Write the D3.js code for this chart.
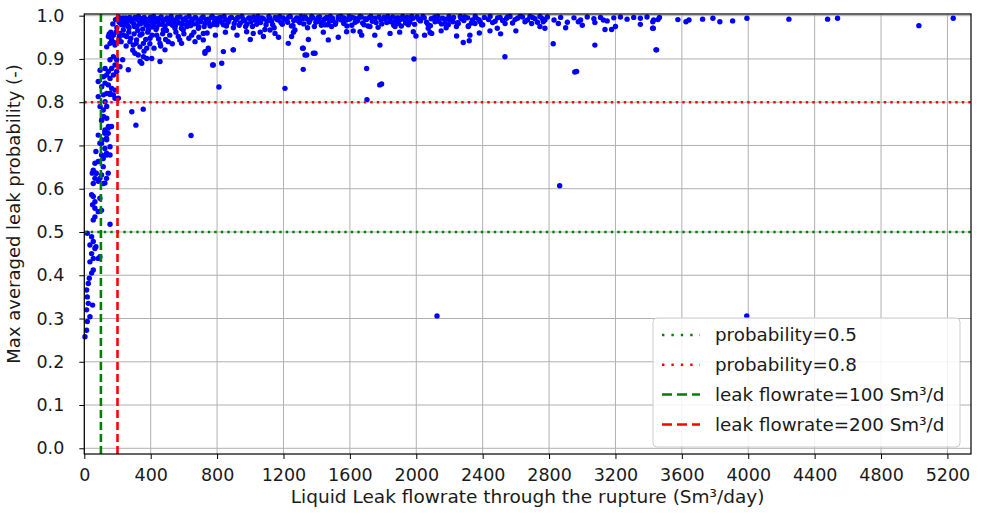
<!DOCTYPE html>
<html><head><meta charset="utf-8">
<script src="https://cdn.jsdelivr.net/npm/d3@7"></script>
<style>
html,body{margin:0;padding:0;background:#fff;}
text{font-family:"DejaVu Sans",sans-serif;fill:#1a1a1a;}
</style></head>
<body><svg id="c" width="981" height="515"></svg>
<script>
// ---------- data ----------
// steep rise near the origin (flowrate Sm3/day, probability)
const riseX = [4,14,18,34,14,24,50,18,14,24,30,44,54,34,54,44,64,84,94,34,54,70,18,44,155,54,64,84,104,64,50,64,94,54,44,54,84,114,64,104,134,70,54,64,84,114,104,134,70,124,94,108,134,84,124,144,48,72,94,124,114,144,135,155,104,135,155,124,144,164,135,104,114,135,84,135,155,115,105,145,125,95,125,115,155,175,185,205];
const riseY = [0.258,0.273,0.293,0.304,0.32,0.335,0.331,0.35,0.366,0.381,0.393,0.405,0.412,0.431,0.439,0.45,0.462,0.439,0.443,0.47,0.478,0.466,0.497,0.489,0.518,0.528,0.535,0.547,0.55,0.555,0.563,0.57,0.578,0.582,0.586,0.612,0.617,0.612,0.624,0.632,0.624,0.636,0.643,0.659,0.663,0.67,0.678,0.682,0.686,0.693,0.705,0.713,0.717,0.724,0.732,0.728,0.636,0.636,0.624,0.613,0.651,0.636,0.678,0.678,0.705,0.713,0.697,0.728,0.74,0.744,0.763,0.758,0.782,0.79,0.813,0.82,0.818,0.767,0.759,0.744,0.736,0.79,0.801,0.817,0.821,0.817,0.809,0.809];
// cluster between 0.8 and 1.0 at low flowrates
const kneeX = [84,105,125,145,165,185,115,135,155,175,95,125,145,165,195,185,215,231,265,155,175,195,135,155,165,185,145,175,205,215,235,225,245,265,255,275,295,305,336,325,356,376,406,456,346,315,336,356,376,396,386,416,436,456,486,506,476,516,546,566,586,596,617,647,667,687,717,727,747,757,777,286,355,311,643,828,811,897,1209,1319,1319,1380,1470,1580];
const kneeY = [0.848,0.836,0.844,0.84,0.832,0.828,0.859,0.863,0.855,0.863,0.874,0.878,0.871,0.878,0.871,0.886,0.882,0.898,0.875,0.898,0.905,0.898,0.928,0.936,0.944,0.932,0.952,0.955,0.94,0.959,0.967,0.979,0.982,0.975,0.952,0.94,0.932,0.913,0.894,0.909,0.905,0.901,0.901,0.894,0.89,0.944,0.955,0.936,0.925,0.948,0.967,0.975,0.955,0.936,0.921,0.94,0.967,0.982,0.971,0.952,0.936,0.967,0.979,0.955,0.94,0.971,0.959,0.917,0.925,0.979,0.886,0.778,0.784,0.747,0.723,0.89,0.835,0.921,0.832,0.925,0.876,0.913,0.944,0.963];
// points just below the saturated band
const subX = [717,727,747,773,838,898,978,1018,1079,1119,1149,1229,1249,1269,1340,1390,1330,1315,1420,1450,1490,1661,1671,1701,1721,1781,1791,1842,1872,1892,1952,1982,1998,1986,2022,2072,2083,2093,2113,2173,2193,2243,2253,2283,2313,2323,2319,2354,2394,2444,2488,2508,2534,2544,2695,2745,2765,2775,2825,2856,2966,2976,3076,3076,3127,3137,3177,3428,3448,3424,3425,1703];
const subY = [0.944,0.913,0.921,0.886,0.917,0.921,0.963,0.959,0.952,0.967,0.959,0.936,0.952,0.967,0.909,0.913,0.909,0.925,0.986,0.979,0.975,0.963,0.955,0.878,0.975,0.932,0.842,0.959,0.975,0.982,0.979,0.963,0.953,0.9,0.99,0.971,0.961,0.959,0.986,0.982,0.979,0.953,0.982,0.938,0.975,0.955,0.942,0.982,0.979,0.965,0.971,0.958,0.905,0.994,0.982,0.975,0.986,0.971,0.935,0.982,0.871,0.986,0.984,0.932,0.99,0.968,0.968,0.971,0.921,0.971,0.986,0.806];
// saturated band close to 1.0
const bandX = [210,225,240,250,262,270,285,298,305,318,330,345,352,365,378,390,398,410,422,436,445,458,470,482,495,505,520,532,545,560,572,585,598,612,625,640,652,668,680,695,708,722,735,750,765,778,792,805,820,838,850,866,880,898,912,925,940,958,972,990,1005,1020,1038,1052,1070,1088,1100,1118,1135,1150,1168,1185,1198,1215,1232,1248,1262,1280,1298,1312,1330,1345,1360,1378,1395,1410,1428,1445,1460,1478,1495,1512,1530,1548,1565,1582,1598,1615,1632,1650,1668,1685,1700,1718,1735,1752,1770,1788,1805,1822,1840,1858,1875,1893,1910,1928,1945,1962,1980,2005,2025,2048,2070,2090,2112,2135,2158,2180,2200,2225,2248,2270,2292,2315,2338,2360,2385,2410,2435,2460,2490,2520,2550,2580,2610,2640,2670,2700,2730,2760,2790,2830,2870,2910,2950,2990,3030,3070,3110,3150,3190,3230,3270,3310,3350,3390,3430,3465];
const bandY = [0.985,0.992,0.978,0.995,0.988,0.972,0.99,0.981,0.996,0.976,0.987,0.993,0.969,0.984,0.991,0.977,0.996,0.986,0.993,0.972,0.989,0.995,0.98,0.991,0.966,0.985,0.994,0.978,0.988,0.996,0.983,0.971,0.99,0.995,0.985,0.977,0.992,0.996,0.982,0.989,0.995,0.975,0.991,0.986,0.996,0.98,0.993,0.988,0.996,0.979,0.991,0.985,0.995,0.972,0.99,0.996,0.983,0.992,0.975,0.994,0.986,0.997,0.98,0.991,0.995,0.968,0.988,0.994,0.979,0.996,0.99,0.984,0.995,0.991,0.997,0.976,0.989,0.995,0.984,0.993,0.997,0.972,0.99,0.995,0.985,0.996,0.978,0.991,0.996,0.987,0.994,0.98,0.997,0.99,0.995,0.976,0.992,0.996,0.985,0.993,0.997,0.979,0.991,0.996,0.987,0.994,0.973,0.99,0.996,0.984,0.993,0.997,0.988,0.995,0.976,0.991,0.996,0.985,0.994,0.997,0.988,0.995,0.98,0.993,0.997,0.987,0.994,0.972,0.99,0.996,0.984,0.993,0.997,0.977,0.99,0.995,0.986,0.996,0.991,0.984,0.995,0.989,0.997,0.983,0.994,0.997,0.99,0.996,0.985,0.993,0.997,0.99,0.996,0.985,0.995,0.99,0.997,0.993,0.996,0.988,0.995,0.997,0.992,0.996,0.994,0.997,0.99,0.996];
// second, denser layer of the saturated band as [flowrate, probability]
const bandPairs = [[160,0.962],[172,0.981],[188,0.991],[196,0.972],[205,0.997],[218,0.983],[232,0.995],[246,0.988],[258,0.979],[274,0.996],[288,0.986],[302,0.975],[315,0.992],[326,0.998],[338,0.981],[349,0.99],[361,0.996],[372,0.978],[384,0.988],[395,0.993],[407,0.974],[418,0.998],[429,0.985],[441,0.993],[452,0.98],[463,0.997],[475,0.989],[487,0.976],[498,0.995],[510,0.983],[523,0.998],[536,0.99],[548,0.977],[563,0.986],[577,0.997],[590,0.981],[604,0.992],[618,0.975],[631,0.998],[645,0.988],[660,0.981],[674,0.994],[689,0.974],[702,0.986],[716,0.997],[729,0.983],[744,0.992],[758,0.976],[771,0.998],[786,0.987],[799,0.979],[813,0.995],[828,0.985],[842,0.998],[856,0.976],[871,0.99],[887,0.996],[903,0.982],[918,0.993],[933,0.978],[949,0.998],[964,0.988],[981,0.981],[997,0.995],[1013,0.975],[1030,0.99],[1046,0.998],[1062,0.984],[1079,0.993],[1095,0.979],[1112,0.998],[1128,0.987],[1144,0.972],[1160,0.992],[1177,0.998],[1193,0.98],[1209,0.99],[1225,0.985],[1241,0.998],[1257,0.977],[1274,0.992],[1290,0.988],[1306,0.998],[1322,0.981],[1338,0.993],[1354,0.985],[1370,0.998],[1386,0.975],[1402,0.99],[1418,0.997],[1434,0.983],[1450,0.993],[1466,0.979],[1482,0.998],[1498,0.989],[1515,0.984],[1531,0.993],[1547,0.998],[1563,0.982],[1580,0.99],[1596,0.998],[1612,0.978],[1628,0.994],[1645,0.988],[1661,0.998],[1677,0.983],[1693,0.993],[1709,0.976],[1726,0.998],[1742,0.99],[1758,0.984],[1775,0.997],[1792,0.981],[1810,0.993],[1828,0.998],[1846,0.986],[1864,0.978],[1882,0.995],[1900,0.99],[1918,0.998],[1936,0.983],[1954,0.993],[1972,0.998],[1990,0.98],[2015,0.992],[2040,0.998],[2062,0.985],[2085,0.977],[2108,0.994],[2130,0.998],[2152,0.981],[2175,0.992],[2197,0.998],[2220,0.986],[2242,0.975],[2265,0.998],[2287,0.989],[2310,0.995],[2332,0.983],[2355,0.998],[2377,0.991],[2400,0.979],[2445,0.998],[2475,0.987],[2505,0.996],[2535,0.982],[2565,0.998],[2595,0.991],[2625,0.998],[2655,0.986],[2685,0.998],[2715,0.993],[2745,0.998],[2775,0.99]];
// extra points of the knee between 0.92 and 0.97
const kneePairs = [[150,0.958],[162,0.948],[178,0.938],[192,0.962],[210,0.95],[222,0.94],[238,0.955],[252,0.93],[268,0.962],[280,0.948],[292,0.92],[300,0.958],[312,0.936],[322,0.966],[335,0.928],[348,0.958],[360,0.918],[370,0.945],[382,0.962],[395,0.935],[408,0.955],[420,0.925],[432,0.968],[448,0.946],[460,0.93],[472,0.958],[490,0.945],[515,0.955],[530,0.935],[552,0.962],[575,0.944],[600,0.958],[630,0.948],[660,0.962],[690,0.95],[740,0.96],[790,0.955],[850,0.962],[920,0.955],[1000,0.945],[1060,0.962],[1170,0.95],[1260,0.962],[1350,0.945],[1440,0.962],[1530,0.95],[1620,0.965],[1750,0.955],[1900,0.962],[2050,0.955],[2150,0.965],[2380,0.96],[2600,0.965],[2900,0.972],[3000,0.978],[3200,0.975],[3350,0.98]];
// sparse points at large flowrates and outliers
const sparseX = [3456,3576,3625,3643,3725,3787,3829,3906,3992,4245,4478,4538,5028,5235,3444,2864,2125,3991,2955,1780];
const sparseY = [0.991,0.991,0.986,0.99,0.992,0.994,0.986,0.988,0.994,0.992,0.992,0.994,0.977,0.994,0.921,0.607,0.306,0.306,0.87,0.84];

const xTicks = [0,400,800,1200,1600,2000,2400,2800,3200,3600,4000,4400,4800,5200];
const yTicks = [0,0.1,0.2,0.3,0.4,0.5,0.6,0.7,0.8,0.9,1.0];
const probLevels = [0.5, 0.8];
const flowLevels = [100, 200];
const legendLabels = ["probability=0.5","probability=0.8","leak flowrate=100 Sm\u00b3/d","leak flowrate=200 Sm\u00b3/d"];

// ---------- chart ----------
const svg = d3.select("#c");
const L = 84.3, R = 971, T = 14, B = 454;
const x = d3.scaleLinear().domain([0, 5342]).range([L, R]);
const y = d3.scaleLinear().domain([-0.0132, 1.0039]).range([B, T]);

// grid
const g = svg.append("g");
g.selectAll("line.gx").data(xTicks).join("line")
  .attr("x1", d => x(d)).attr("x2", d => x(d)).attr("y1", T).attr("y2", B)
  .attr("stroke", "#b0b0b0").attr("stroke-width", 1);
g.selectAll("line.gy").data(yTicks).join("line")
  .attr("y1", d => y(d)).attr("y2", d => y(d)).attr("x1", L).attr("x2", R)
  .attr("stroke", "#b0b0b0").attr("stroke-width", 1);

// points
const pts = [];
[[riseX,riseY],[kneeX,kneeY],[subX,subY],[bandX,bandY],[sparseX,sparseY]].forEach(([xs,ys]) => {
  const n = Math.min(xs.length, ys.length);
  for (let i = 0; i < n; i++) pts.push([xs[i], ys[i]]);
});
bandPairs.forEach(p => pts.push(p));
kneePairs.forEach(p => pts.push(p));
svg.append("g").selectAll("circle").data(pts).join("circle")
  .attr("cx", d => x(d[0])).attr("cy", d => y(d[1])).attr("r", 2.7)
  .attr("fill", "#0000ff");

// reference lines
const probColors = ["#008000", "#ff0000"];
svg.append("g").selectAll("line").data(probLevels).join("line")
  .attr("x1", L).attr("x2", R).attr("y1", d => y(d)).attr("y2", d => y(d))
  .attr("stroke", (d,i) => probColors[i]).attr("stroke-width", 2.4)
  .attr("stroke-dasharray", "2.4,4.1");
svg.append("g").selectAll("line").data(flowLevels).join("line")
  .attr("x1", d => x(d)).attr("x2", d => x(d)).attr("y1", T).attr("y2", B)
  .attr("stroke", (d,i) => probColors[i]).attr("stroke-width", 2.6)
  .attr("stroke-dasharray", "8,4");

// axes
const xAxis = svg.append("g").attr("transform", `translate(0,${B})`)
  .call(d3.axisBottom(x).tickValues(xTicks).tickFormat(d3.format("d")).tickSize(5).tickSizeOuter(0));
const yAxis = svg.append("g").attr("transform", `translate(${L},0)`)
  .call(d3.axisLeft(y).tickValues(yTicks).tickFormat(d3.format(".1f")).tickSize(5).tickSizeOuter(0));
[xAxis, yAxis].forEach(a => {
  a.select(".domain").remove();
  a.selectAll("line").attr("stroke", "#000").attr("stroke-width", 1);
  a.selectAll("text").style("font-size", "17.5px").attr("fill", "#1a1a1a");
});
xAxis.selectAll("text").attr("y", 14.5).attr("dy", "0.71em");
yAxis.selectAll("text").attr("x", -20);

// frame
svg.append("rect").attr("x", L).attr("y", T).attr("width", R - L).attr("height", B - T)
  .attr("fill", "none").attr("stroke", "#000").attr("stroke-width", 1.2);

// axis labels
svg.append("text").attr("x", (L + R) / 2).attr("y", 503).attr("text-anchor", "middle")
  .style("font-size", "18.5px").text("Liquid Leak flowrate through the rupture (Sm\u00b3/day)");
svg.append("text").attr("transform", "translate(20,214) rotate(-90)").attr("text-anchor", "middle")
  .style("font-size", "18px").text("Max averaged leak probability (-)");

// legend
const lg = svg.append("g");
lg.append("rect").attr("x", 653).attr("y", 318).attr("width", 307).attr("height", 129)
  .attr("rx", 4).attr("fill", "#fff").attr("fill-opacity", 0.85).attr("stroke", "#cccccc");
const legStyles = [
  {c: "#008000", dash: "2.4,7"}, {c: "#ff0000", dash: "2.4,7"},
  {c: "#008000", dash: "10,5"}, {c: "#ff0000", dash: "10,5"}];
legendLabels.forEach((t, i) => {
  const cy = 335 + i * 29.8;
  lg.append("line").attr("x1", 662).attr("x2", 700).attr("y1", cy).attr("y2", cy)
    .attr("stroke", legStyles[i].c).attr("stroke-width", 2.5).attr("stroke-dasharray", legStyles[i].dash);
  lg.append("text").attr("x", 715).attr("y", cy).attr("dy", "0.35em")
    .style("font-size", "18.3px").text(t);
});
</script></body></html>
